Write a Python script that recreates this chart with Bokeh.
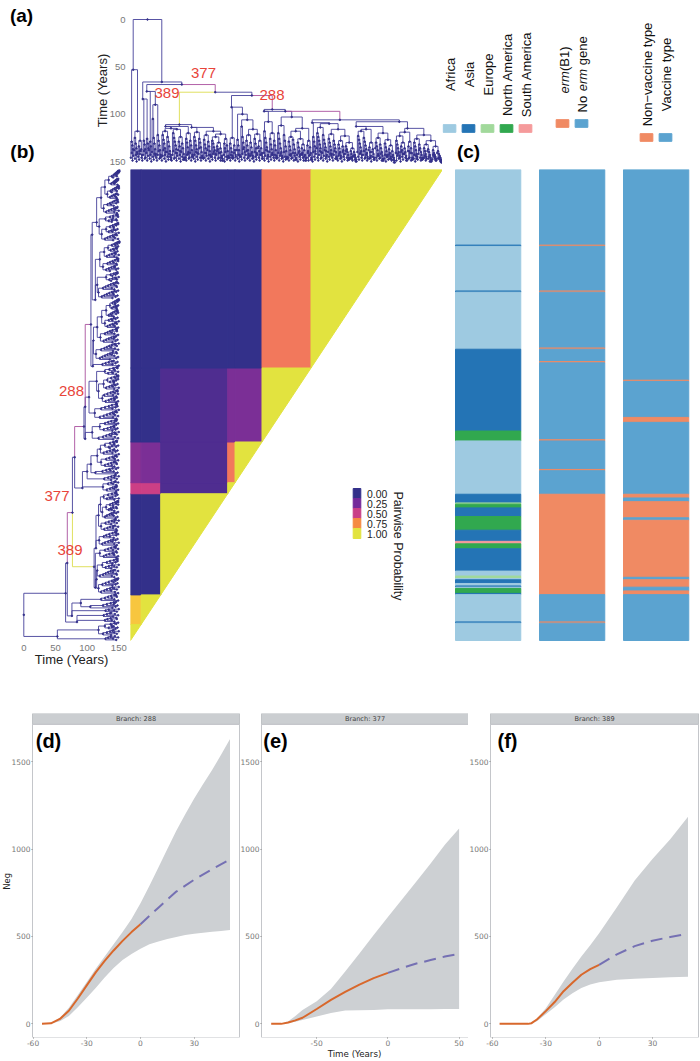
from bokeh.plotting import figure
from bokeh.layouts import column, row
from bokeh.models import Range1d, Label, ColumnDataSource, LinearColorMapper, FixedTicker
from bokeh.embed import file_html
from bokeh.resources import INLINE

# ---------- tree (ages in years; "at" = tip position) ----------
PURPLE = "#a9509e"
YELLOW = "#dcdc4e"
BLUE = "#45419a"
tip_ages = [146, 141, 149, 144, 138, 147, 143, 150, 140, 145, 148, 142, 136, 146, 149, 143, 139, 147]

clade_A = (53, [129, 133, 137], (118, [125, 131, 136, 140], (128, [134, 139], [137, 143])), {"at": 3.3})
clade_B1 = (84, [128, 132, 137], [126, 131, 136], {"at": 15})
clade_B2 = (76, [129, 134], (90, [105, 125, 131, 137, 142], [122, 128, 133, 138, 143]), {"at": 20})
clade_C = (111,
           (113,
            (115, (118, [122, 127, 131, 136, 140], [124, 129, 134, 139, 143, 146]),
             (116, [120, 125, 129, 133, 137, 141], (124, [129, 134, 139], [131, 136, 142, 146]))),
            (120, [126, 130, 135, 140], [128, 133, 138, 143]), {"at": 43}),
           (114,
            (119, [124, 128, 133, 137, 141], [126, 130, 135, 140, 144]),
            (118,
             (122, [127, 132, 136, 141], [129, 134, 139, 143]),
             (121, (124, [128, 131, 135, 138, 142], (130, [134, 137, 141], [136, 140, 144, 147])),
              (126, [131, 136], [133, 139, 144]))), {"at": 75}),
           {"at": 60})
clade_D = (92.6, (125, [131, 136, 140, 144], [133, 138, 143]),
           (100, [127, 133, 138, 143],
            (106, [113, 124, 130, 135, 140],
             (116, (122, [128, 133, 138, 142], [130, 135, 140, 144]),
              (121, [126, 131, 136, 141], (128, [134, 139], [136, 141, 145]))))),
           {"at": 124})
clade_E = (97,
           (108, [118, 125, 130, 135, 139, 143], (120, [126, 132, 137, 141], [128, 133, 138, 144])),
           (103,
            (112, [120, 126, 131, 136, 140, 144], [122, 128, 134, 139, 145]),
            (115,
             (118, (124, [129, 134, 138, 142], [127, 132, 137, 141, 146]),
              (126, [130, 135, 139, 143], (132, [136, 141], [138, 143, 147]))),
             (128, [133, 139], [135, 141, 146]))),
           {"at": 164})
clade_F = (109, [124, 129, 134, 139],
           (110,
            (114, [120, 124, 128, 132, 136, 140], [122, 127, 131, 135, 139, 143]),
            (116,
             (121, [126, 130, 134, 138, 142], [128, 132, 136, 140, 145]),
             (123, (128, [132, 136, 140, 144], [134, 138, 142]),
              (130, [134, 137, 140, 143, 146], (136, [139, 142, 145], [140, 143, 146, 148]))))),
           {"at": 223})
clade_G = (108,
           (113,
            (116, (118, [123, 127, 131, 135, 139, 143], [125, 129, 133, 137, 141, 145]),
             (130, [135, 140, 144], [137, 142, 146])),
            (120, (125, [130, 134, 138, 142], [132, 136, 140, 144, 147]),
             (127, [131, 135, 139, 143], (133, [137, 141, 145], [139, 143, 146, 149]))),
            {"at": 277}),
           (115,
            (119, (123, [128, 132, 136, 140, 144], (130, [134, 138, 142], [136, 140, 144, 147])),
             (129, [134, 139], [136, 141, 146])),
            (122,
             (126, [130, 134, 138, 142, 145], [132, 136, 140, 143, 146]),
             (128, (132, [136, 139, 142, 145], [137, 140, 143, 146, 148]),
              (134, [138, 141, 143, 145, 147], [139, 142, 144, 146, 148, 149]))),
            {"at": 340}),
           {"at": 330})
tree = (0, clade_A,
        (66, clade_B1,
         (68.7, clade_B2,
          (PURPLE, (76.8, (YELLOW, clade_C),
                    (80.3, clade_D,
                     (PURPLE, (95, clade_E,
                               (97, (PURPLE, (106, clade_F, clade_G, {"at": 257})), {"at": 190}),
                               {"at": 174})),
                     {"at": 149}),
                    {"at": 104})),
          {"at": 63}),
         {"at": 38.4}))

# ---------- heat map ----------
block_edges = [0, 13, 37, 119, 128, 161, 221, 382]
heat_rows = [
    [],
    [0.85],
    [0.0, 0.0],
    [0.5, 0.5, 0.15],
    [0.33, 0.3, 0.15, 0.7],
    [0.0, 0.0, 0.15, 0.3, 0.3],
    [0.0, 0.0, 0.0, 0.0, 0.0, 0.7],
]
legend_levels = ["0.00", "0.25", "0.50", "0.75", "1.00"]
legend_colors = ["#33308a", "#74299a", "#c93f87", "#f58a42", "#e2e33f"]

# ---------- annotation tracks: runs of tips from the top ----------
continents = ["Africa", "Asia", "Europe", "North America", "South America"]
continent_colors = ["#9ecae1", "#2474b5", "#a1d99b", "#31a84f", "#f59a9b"]
track1_cats = [0, 1, 0, 1, 0, 1, 3, 0, 1, 2, 3, 1, 3, 1, 4, 3, 1, 0, 2, 0, 1, 0, 1, 0, 3, 1, 0, 1, 0]
track1_runs = [61, 1, 36, 1, 46, 66, 8, 43, 7, 1, 3, 7, 11, 9, 2, 4, 18, 4, 2, 1, 3, 2, 1, 1, 4, 1, 22, 1, 14]
gene_colors = ["#f08a63", "#5ba3d0"]
track2_cats = [1, 0, 1, 0, 1, 0, 1, 0, 1, 0, 1, 0, 1, 0, 1, 0, 1]
track2_runs = [61, 1, 36, 1, 45, 1, 10, 1, 62, 1, 23, 1, 19, 81, 22, 1, 14]
track3_cats = [1, 0, 1, 0, 1, 0, 1, 0, 1, 0, 1, 0, 1, 0, 1]
track3_runs = [170, 1, 29, 4, 58, 3, 3, 13, 2, 46, 2, 6, 3, 3, 37]

# ---------- Ne panels ----------
d_time = [-55, -50, -45, -40, -35, -30, -25, -20, -15, -10, -5, 0, 5, 10, 15, 20, 25, 30, 35, 40, 45, 50]
d_upper = [0, 3, 35, 92, 165, 240, 315, 385, 455, 525, 600, 690, 790, 895, 1000, 1105, 1200, 1290, 1372, 1452, 1540, 1630]
d_lower = [0, 2, 15, 45, 95, 150, 205, 265, 320, 365, 400, 430, 455, 472, 485, 497, 508, 516, 522, 527, 532, 537]
d_obs = [0, 3, 28, 75, 145, 220, 295, 360, 420, 475, 525, 570]
d_fut_t = [0, 10, 20, 30, 40, 49]
d_fut = [570, 665, 757, 825, 885, 935]

e_time = [-82, -75, -70, -65, -60, -50, -40, -30, -20, -10, 0, 10, 20, 30, 40, 50]
e_upper = [0, 0, 15, 45, 80, 130, 200, 299, 403, 508, 612, 713, 815, 918, 1025, 1118]
e_lower = [0, 0, 5, 12, 22, 42, 62, 76, 78, 80, 83, 84, 84, 84, 85, 85]
e_obs = [0, 0, 8, 20, 35, 85, 137, 183, 225, 262, 292]
e_fut_t = [0, 10, 20, 30, 40, 48]
e_fut = [292, 320, 345, 365, 385, 398]

f_time = [-56, -40, -38, -35, -30, -25, -20, -15, -10, -5, 0, 10, 20, 30, 40, 50]
f_upper = [0, 0, 5, 30, 90, 165, 243, 315, 385, 450, 518, 668, 820, 943, 1056, 1185]
f_lower = [0, 0, 3, 15, 55, 95, 140, 175, 205, 225, 238, 252, 258, 263, 267, 270]
f_obs = [0, 0, 4, 25, 73, 125, 187, 235, 281, 313, 338]
f_fut_t = [0, 10, 20, 30, 40, 48]
f_fut = [338, 398, 445, 476, 497, 512]

SANS = "Liberation Sans"
DEJA = "DejaVu Sans"
RED = "#e8443a"


# ---------- helpers ----------
def base(w, h, xr, yr, bottom=0):
    p = figure(width=w, height=h, x_range=Range1d(*xr), y_range=Range1d(*yr),
               toolbar_location=None, output_backend="svg", tools="")
    p.min_border = 0
    p.min_border_left = 0
    p.min_border_bottom = bottom
    p.min_border_right = 0
    p.min_border_top = 0
    p.outline_line_color = None
    p.grid.visible = False
    return p


def lab(p, x, y, s, size, color="#111111", angle=0, font=SANS, style="normal",
        align="center", base_="middle"):
    p.add_layout(Label(x=x, y=y, text=s, text_font_size=f"{size}px", text_color=color,
                       angle=angle, angle_units="deg", text_font=font, text_font_style=style,
                       text_align=align, text_baseline=base_))


segments = []
dots = []
_tips = [0]


def as_node(n):
    if isinstance(n, list):
        if len(n) == 1:
            return (n[0], None, None)
        return (n[0], None, n[1:])
    return n


def place(n, parent_age, color=BLUE):
    if isinstance(n, tuple) and isinstance(n[0], str):
        return place(n[1], parent_age, n[0])
    n = as_node(n)
    if n is None:
        i = _tips[0]
        _tips[0] += 1
        age = max(tip_ages[i % len(tip_ages)], parent_age + 2)
        x = i + 0.5
        segments.append((x, parent_age, x, age, color))
        dots.append((x, age))
        return x, color
    age = n[0]
    at = None
    parts = list(n[1:])
    if isinstance(parts[-1], dict):
        at = parts.pop()["at"]
    kids = [place(k, age) for k in parts]
    x = at if at is not None else (kids[0][0] + kids[-1][0]) / 2
    for kx, kc in kids:
        segments.append((x, age, kx, age, kc))
    if parent_age is not None:
        segments.append((x, parent_age, x, age, color))
    dots.append((x, age))
    return x, color


place(tree, None)
N = _tips[0]
sx0, st0, sx1, st1, scol = zip(*segments)
dx, dt = zip(*dots)

# ---------- row A: tree (a) ----------
T_PX = 0.9467


def ax(px):
    return (px - 130) / 312 * N


def ay(py):
    return (py - 19) / T_PX


fa = base(442, 169, (ax(0), ax(442)), (ay(169), ay(0)))
fa.segment(sx0, st0, sx1, st1, line_color=list(scol), line_width=0.9)
fa.scatter(dx, dt, size=1.6, color="#33308a")
fa.xaxis.visible = False
ya = fa.yaxis[0]
ya.fixed_location = 0
ya.ticker = FixedTicker(ticks=[0, 50, 100, 150])
ya.axis_line_color = None
ya.major_tick_line_color = None
ya.minor_tick_line_color = None
ya.major_label_text_font = SANS
ya.major_label_text_font_size = "9.5px"
ya.major_label_text_color = "#777777"
ya.major_label_standoff = -1
lab(fa, ax(102), ay(90), "Time (Years)", 13, "#222222", angle=90)
lab(fa, ax(21), ay(15), "(a)", 19, "#000000", style="bold")
lab(fa, ax(22), ay(151), "(b)", 19, "#000000", style="bold")
lab(fa, ax(203), ay(72), "377", 15, RED)
lab(fa, ax(166.5), ay(92), "389", 15, RED)
lab(fa, ax(271.5), ay(94), "288", 15, RED)

# ---------- row A: legends ----------
fl = base(258, 169, (442, 700), (169, 0))
fl.xaxis.visible = False
fl.yaxis.visible = False
fl.rect([449, 468, 487, 506, 525], 128, width=12.7, height=7.7, color=continent_colors)
for x, s in zip([450, 469, 488, 507, 526], continents):
    lab(fl, x, 74, s, 13, "#111111", angle=90)
fl.rect([562, 581], 123, width=12.7, height=7.7, color=gene_colors)
fl.rect([646, 665], 137, width=12.7, height=7.7, color=gene_colors)
lab(fl, 564, 93, "erm", 13, "#111111", angle=90, style="italic", align="left")
lab(fl, 564, 70.6, "(B1)", 13, "#111111", angle=90, align="left")
lab(fl, 582, 112, "No", 13, "#111111", angle=90, align="left")
lab(fl, 582, 90.8, "erm", 13, "#111111", angle=90, style="italic", align="left")
lab(fl, 582, 64.8, "gene", 13, "#111111", angle=90, align="left")
lab(fl, 647, 74, "Non\u2212vaccine type", 13, "#111111", angle=90)
lab(fl, 666, 74, "Vaccine type", 13, "#111111", angle=90)
lab(fl, 468, 151, "(c)", 19, "#000000", style="bold")

# ---------- row B: tree (b) ----------
X_PX = 0.6333


def bx(px):
    return (px - 23.3) / X_PX


def by(py):
    return (640 - py) / 471 * N


fb = base(130, 544, (bx(0), bx(130)), (by(713), by(169)))
fb.segment(st0, sx0, st1, sx1, line_color=list(scol), line_width=0.9)
fb.scatter(dt, dx, size=1.6, color="#33308a")
fb.yaxis.visible = False
xb = fb.xaxis[0]
xb.fixed_location = 0
xb.ticker = FixedTicker(ticks=[0, 50, 100, 150])
xb.axis_line_color = None
xb.major_tick_line_color = None
xb.minor_tick_line_color = None
xb.major_label_text_font = SANS
xb.major_label_text_font_size = "9.5px"
xb.major_label_text_color = "#777777"
xb.major_label_standoff = -2
lab(fb, bx(71), by(659), "Time (Years)", 13, "#222222")
lab(fb, bx(71), by(390.7), "288", 15, RED)
lab(fb, bx(56.5), by(495), "377", 15, RED)
lab(fb, bx(69.5), by(549), "389", 15, RED)

# ---------- row B: heat map ----------
anchors = [(0, (51, 48, 138)), (0.15, (79, 45, 144)), (0.3, (123, 47, 150)), (0.5, (204, 63, 133)),
           (0.7, (242, 120, 92)), (0.85, (247, 198, 63)), (1, (226, 227, 63))]


def lerp(v):
    for (a, ca), (b, cb) in zip(anchors, anchors[1:]):
        if v <= b:
            t = (v - a) / (b - a)
            return "#%02x%02x%02x" % tuple(round(p + (q - p) * t) for p, q in zip(ca, cb))


def hx(px):
    return (px - 130) / 312 * block_edges[-1]


def hy(py):
    return (640 - py) / 471 * block_edges[-1]


mapper = LinearColorMapper(palette=[lerp(i / 100) for i in range(101)], low=0, high=1)
fh = base(312, 544, (0, block_edges[-1]), (hy(713), hy(169)))
fh.xaxis.visible = False
fh.yaxis.visible = False
L, R, B, T, P = [], [], [], [], []
for j, vals in enumerate(heat_rows):
    for i, v in enumerate(vals):
        L.append(block_edges[i])
        R.append(block_edges[i + 1])
        B.append(block_edges[j])
        T.append(block_edges[j + 1])
        P.append(v)
fh.quad(left="left", right="right", bottom="bottom", top="top",
        fill_color={"field": "p", "transform": mapper}, line_color={"field": "p", "transform": mapper},
        source=ColumnDataSource(dict(left=L, right=R, bottom=B, top=T, p=P)))
tx, ty = [], []
for a, b in zip(block_edges, block_edges[1:]):
    tx.append([a, a, b])
    ty.append([a, b, b])
fh.patches(tx, ty, fill_color=legend_colors[-1], line_color=legend_colors[-1])

for k, (s, c) in enumerate(zip(legend_levels, legend_colors)):
    y0 = 488 + 10 * k
    fh.quad(left=hx(352.7), right=hx(360.3), top=hy(y0), bottom=hy(y0 + 10), color=c)
    lab(fh, hx(366.5), hy(y0 + 5.5), s, 10.4, "#222222", align="left")
lab(fh, hx(397), hy(545.5), "Pairwise Probability", 12.5, "#222222", angle=-90)

# ---------- row B: tracks ----------
ft = base(258, 544, ((442 - 455) / 84, (700 - 455) / 84), ((640 - 713) / 471 * 380, 380))
ft.xaxis.visible = False
ft.yaxis.visible = False
for k, (cats, runs, cols) in enumerate([(track1_cats, track1_runs, continent_colors),
                                        (track2_cats, track2_runs, gene_colors),
                                        (track3_cats, track3_runs, gene_colors)]):
    top = 380
    tops, bots, cs = [], [], []
    for c, r in zip(cats, runs):
        tops.append(top)
        bots.append(top - r)
        cs.append(cols[c])
        top -= r
    ft.quad(left=k, right=k + 0.777, top=tops, bottom=bots, color=cs)


# ---------- row C: Ne panels ----------
def ne_panel(w, left, right_pad, xr, xticks, t, up, lo, obs, ft_, fut, branch, letter, lx):
    frame = w - left - right_pad
    scale = (xr[1] - xr[0]) / frame
    xrange_ = (xr[0] - left * scale, xr[1] + right_pad * scale)
    p = base(w, 348, xrange_, (-78, 1776), bottom=21)
    p.quad(left=xr[0], right=xr[1], bottom=1714, top=1776, fill_color="#cbced1", line_color="#c0c3c6")
    p.quad(left=xr[0], right=xr[1], bottom=-78, top=1714, fill_color=None, line_color="#c4c6ca", line_width=1)
    p.varea(t, lo, up, fill_color="#cdd0d3")
    p.line(t[:len(obs)], obs, line_color="#d8682c", line_width=2)
    p.line(ft_, fut, line_color="#7570b3", line_width=2, line_dash="12 7")
    lab(p, (xr[0] + xr[1]) / 2, 1745, f"Branch: {branch}", 6.6, "#444444", font=DEJA)
    lab(p, xr[0] + lx * scale, 1617, letter, 20, "#000000", style="bold")
    for a in (p.xaxis[0], p.yaxis[0]):
        a.axis_line_color = None
        a.major_tick_line_color = "#888888"
        a.major_tick_out = 1
        a.major_tick_in = 0
        a.minor_tick_line_color = None
        a.major_label_text_font = DEJA
        a.major_label_text_font_size = "7.5px"
        a.major_label_text_color = "#777777"
        a.major_label_standoff = 1
    p.yaxis[0].fixed_location = xr[0]
    p.xaxis[0].ticker = FixedTicker(ticks=xticks)
    p.xaxis[0].major_label_overrides = {k: str(k) for k in xticks}
    p.yaxis[0].ticker = FixedTicker(ticks=[0, 500, 1000, 1500])
    return p


fd = ne_panel(240, 32, 1, (-60.3, 55.3), [-60, -30, 0, 30], d_time, d_upper, d_lower, d_obs, d_fut_t, d_fut,
              288, "(d)", 16)
fe = ne_panel(228, 21, 0, (-88.8, 56.6), [-50, 0, 50], e_time, e_upper, e_lower, e_obs, e_fut_t, e_fut,
              377, "(e)", 14)
ff = ne_panel(232, 22, 2, (-61.1, 55.9), [-60, -30, 0, 30], f_time, f_upper, f_lower, f_obs, f_fut_t, f_fut,
              389, "(f)", 17)
lab(fd, -60.3 - 26 * (115.6 / 207), 816, "Neg", 8.5, "#222222", angle=90, font=DEJA)
xe = fe.xaxis[0]
xe.axis_label = "Time (Years)"
xe.axis_label_text_font = DEJA
xe.axis_label_text_font_size = "8.7px"
xe.axis_label_text_font_style = "normal"
xe.axis_label_text_color = "#222222"
xe.axis_label_standoff = 0

layout = column(row(fa, fl), row(fb, fh, ft), row(fd, fe, ff))
open("out.html", "w").write(file_html(layout, INLINE))
